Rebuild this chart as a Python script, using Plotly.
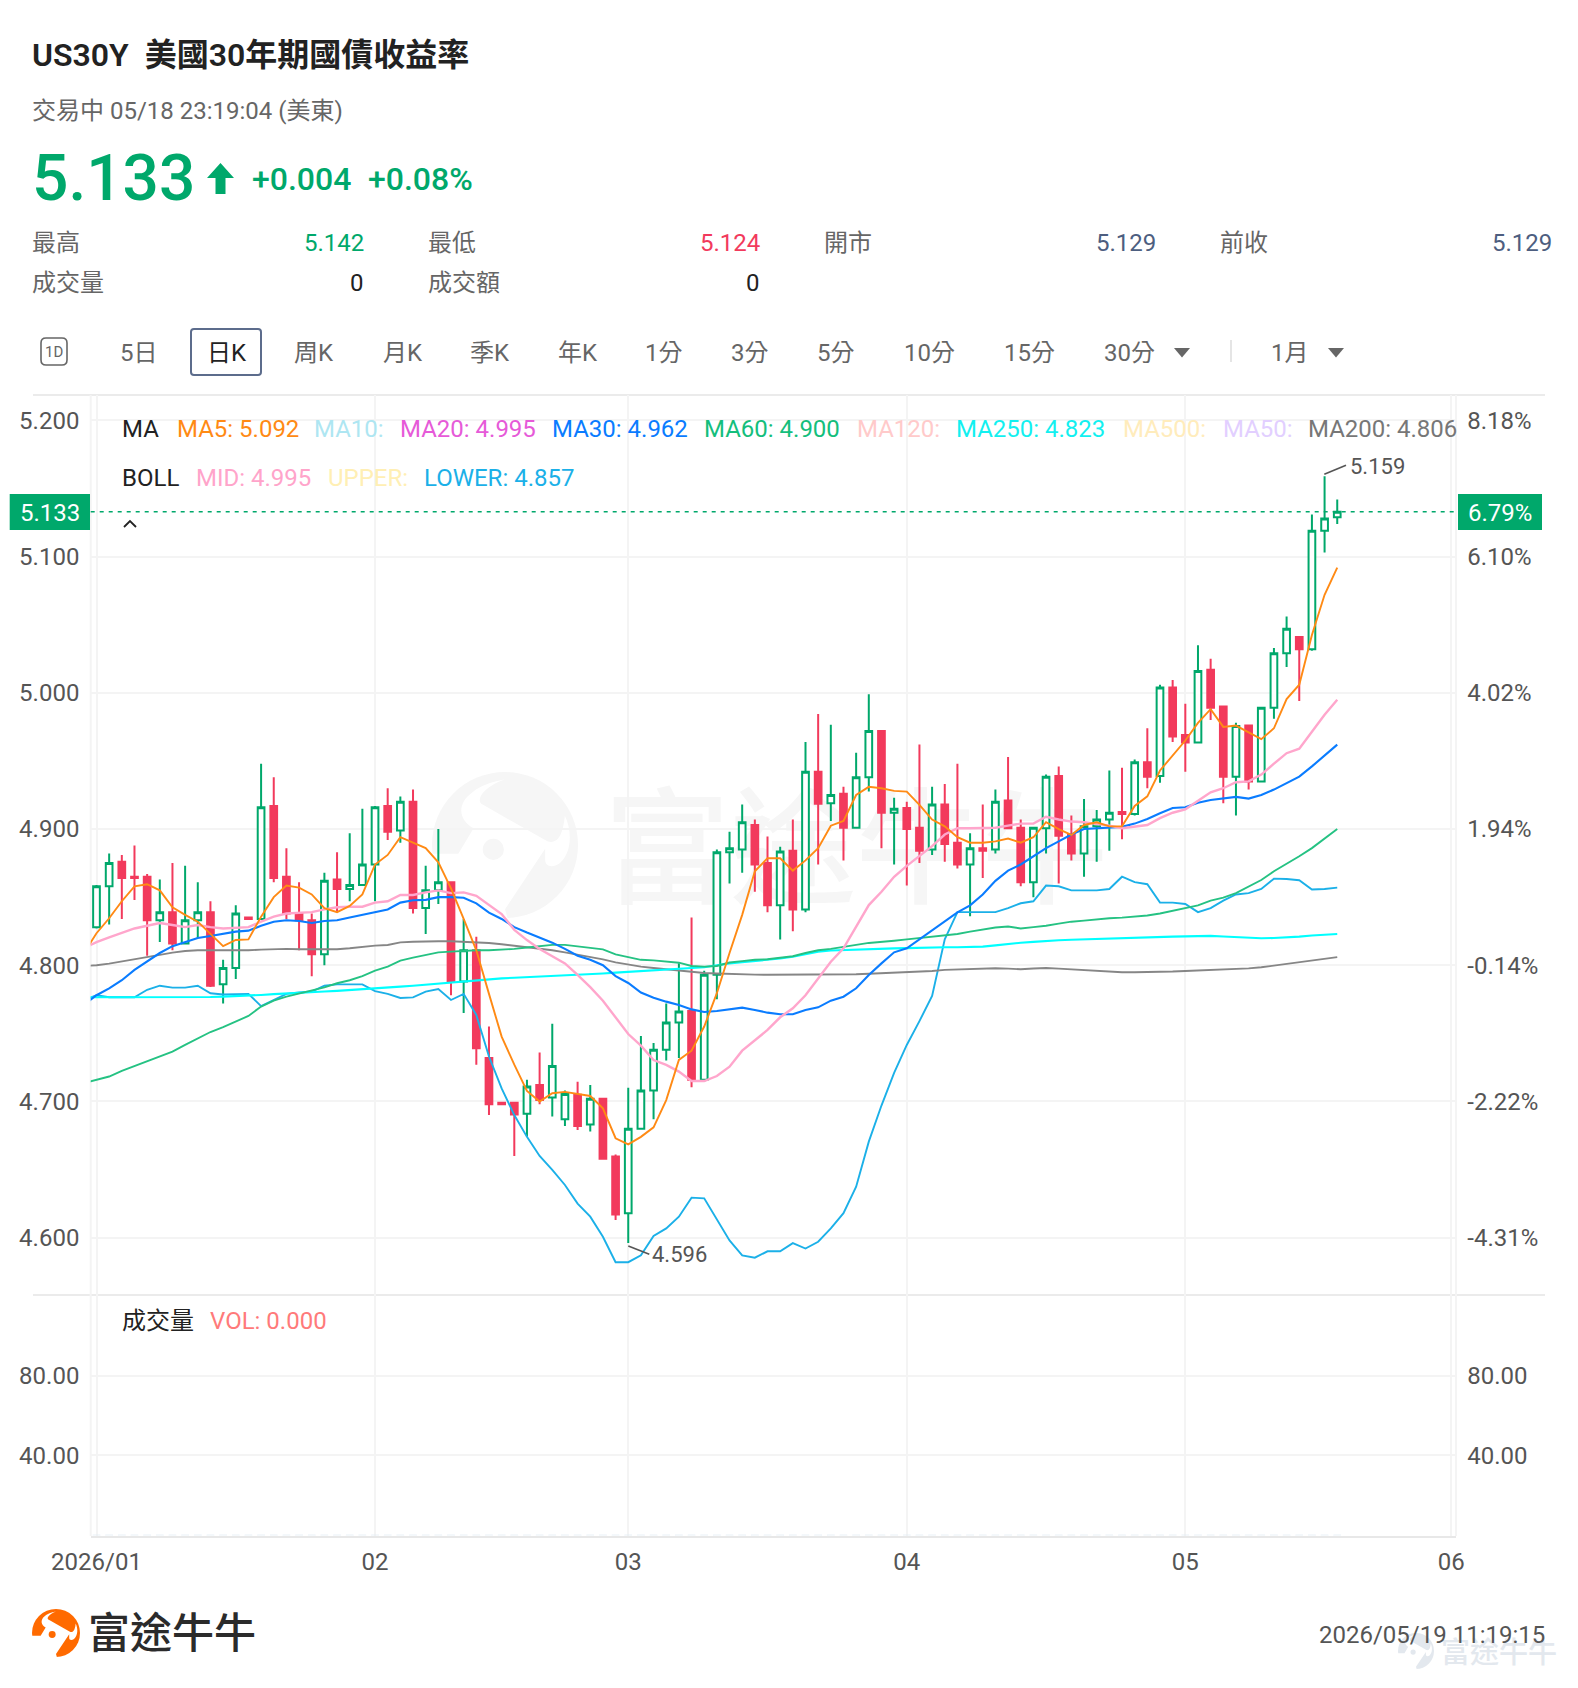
import plotly.graph_objects as go

WIDTH, HEIGHT = 1578, 1688
FONT = "Roboto, 'Noto Sans CJK TC', sans-serif"
UP, DOWN, SLATE = "#00A86B", "#F23A5C", "#4D5E80"
GREY_TEXT, DARK_TEXT = "#666666", "#222222"
GRID = "#F4F4F4"

# daily candles, index 0 = first session of January 2026
OPEN = [
    4.828, 4.858, 4.876, 4.865, 4.865, 4.833, 4.839, 4.816, 4.833, 4.839,
    4.786, 4.798, 4.835, 4.834, 4.917, 4.865, 4.838, 4.833, 4.808, 4.863,
    4.856, 4.859, 4.874, 4.917, 4.899, 4.920, 4.842, 4.855, 4.861, 4.788,
    4.811, 4.732, 4.699, 4.699, 4.691, 4.712, 4.703, 4.687, 4.705, 4.683,
    4.702, 4.6595, 4.618, 4.680, 4.708, 4.738, 4.758, 4.7665, 4.716, 4.793,
    4.883, 4.885, 4.903, 4.875, 4.844, 4.884, 4.841, 4.942, 4.919, 4.926,
    4.901, 4.938, 4.972, 4.912, 4.9155, 4.901, 4.885, 4.918, 4.890, 4.874,
    4.886, 4.885, 4.921, 4.901, 4.861, 4.9006, 4.939, 4.896, 4.882, 4.902,
    4.907, 4.9125, 4.911, 4.949, 4.939, 5.004, 4.969, 4.9635, 5.017, 4.990,
    4.9385, 4.976, 4.935, 4.989, 5.029, 5.041, 5.032, 5.119, 5.129,
]
HIGH = [
    4.859, 4.882, 4.881, 4.888, 4.867, 4.863, 4.875, 4.873, 4.861, 4.847,
    4.804, 4.844, 4.835, 4.948, 4.938, 4.886, 4.861, 4.838, 4.868, 4.883,
    4.897, 4.915, 4.917, 4.930, 4.924, 4.929, 4.873, 4.900, 4.861, 4.834,
    4.821, 4.755, 4.699, 4.699, 4.716, 4.736, 4.757, 4.708, 4.7145, 4.712,
    4.702, 4.661, 4.710, 4.748, 4.743, 4.772, 4.8015, 4.835, 4.796, 4.885,
    4.898, 4.918, 4.907, 4.8945, 4.887, 4.907, 4.964, 4.9845, 4.9765, 4.931,
    4.956, 4.999, 4.972, 4.923, 4.920, 4.962, 4.931, 4.933, 4.948, 4.897,
    4.918, 4.929, 4.953, 4.907, 4.901, 4.940, 4.946, 4.910, 4.922, 4.914,
    4.943, 4.945, 4.951, 4.974, 5.006, 5.0095, 4.992, 5.035, 5.025, 4.990,
    4.978, 4.976, 4.989, 5.033, 5.056, 5.041, 5.131, 5.159, 5.142,
]
LOW = [
    4.827, 4.830, 4.834, 4.848, 4.807, 4.817, 4.811, 4.816, 4.820, 4.784,
    4.772, 4.790, 4.834, 4.834, 4.861, 4.834, 4.811, 4.792, 4.800, 4.839,
    4.847, 4.859, 4.847, 4.892, 4.890, 4.838, 4.823, 4.845, 4.778, 4.765,
    4.727, 4.690, 4.698, 4.660, 4.674, 4.698, 4.689, 4.682, 4.679, 4.678,
    4.6575, 4.613, 4.596, 4.680, 4.687, 4.730, 4.732, 4.7104, 4.7145, 4.775,
    4.860, 4.868, 4.854, 4.839, 4.819, 4.825, 4.839, 4.874, 4.906, 4.877,
    4.9006, 4.9275, 4.886, 4.874, 4.8585, 4.875, 4.881, 4.876, 4.871, 4.836,
    4.864, 4.882, 4.900, 4.858, 4.850, 4.882, 4.860, 4.877, 4.865, 4.876,
    4.884, 4.8925, 4.910, 4.930, 4.934, 4.964, 4.942, 4.9635, 4.980, 4.919,
    4.910, 4.929, 4.935, 4.981, 5.019, 4.994, 5.031, 5.103, 5.124,
]
CLOSE = [
    4.858, 4.875, 4.864, 4.864, 4.833, 4.839, 4.816, 4.833, 4.839, 4.785,
    4.798, 4.838, 4.834, 4.916, 4.864, 4.838, 4.833, 4.808, 4.862, 4.856,
    4.859, 4.874, 4.916, 4.898, 4.920, 4.842, 4.855, 4.861, 4.788, 4.811,
    4.739, 4.698, 4.698, 4.6905, 4.711, 4.701, 4.726, 4.7055, 4.682, 4.702,
    4.658, 4.617, 4.680, 4.708, 4.738, 4.758, 4.766, 4.716, 4.793, 4.883,
    4.886, 4.905, 4.874, 4.844, 4.8835, 4.841, 4.942, 4.9185, 4.925, 4.901,
    4.938, 4.972, 4.912, 4.915, 4.900, 4.884, 4.918, 4.889, 4.874, 4.886,
    4.884, 4.920, 4.9006, 4.861, 4.901, 4.9385, 4.895, 4.882, 4.902, 4.907,
    4.912, 4.911, 4.949, 4.9385, 5.004, 4.968, 4.9635, 5.016, 4.989, 4.9385,
    4.9757, 4.935, 4.989, 5.029, 5.047, 5.032, 5.119, 5.128, 5.133,
]
VOLUME = [0.0] * len(CLOSE)
SESSIONS = list(range(len(CLOSE)))

# indicators start one session earlier, their first segment runs in from the pane edge
LINE_SESSIONS = list(range(-1, len(CLOSE)))
MA5 = [
    4.809, 4.8235, 4.8345, 4.847, 4.858, 4.8595, 4.855, 4.8426, 4.837, 4.832, 4.823,
    4.814, 4.8186, 4.819, 4.8357, 4.850, 4.8585, 4.857, 4.852, 4.842, 4.839,
    4.8436, 4.852, 4.874, 4.881, 4.894, 4.890, 4.886, 4.8756, 4.8565, 4.834,
    4.811, 4.779, 4.7476, 4.727, 4.7077, 4.700, 4.706, 4.707, 4.7055, 4.704,
    4.695, 4.673, 4.6685, 4.674, 4.681, 4.701, 4.7305, 4.7373, 4.755, 4.7795,
    4.809, 4.837, 4.869, 4.8786, 4.8786, 4.8695, 4.877, 4.886, 4.9025, 4.906,
    4.925, 4.931, 4.930, 4.928, 4.9275, 4.9177, 4.907, 4.902, 4.894, 4.890,
    4.890, 4.891, 4.893, 4.890, 4.894, 4.905, 4.900, 4.8957, 4.903, 4.905,
    4.902, 4.902, 4.917, 4.924, 4.943, 4.954, 4.965, 4.978, 4.988, 4.975,
    4.976, 4.971, 4.966, 4.974, 4.9955, 5.006, 5.0425, 5.072, 5.092,
]
BOLL_MID = [
    4.8125, 4.817, 4.8205, 4.824, 4.827, 4.829, 4.831, 4.8296, 4.828, 4.8296, 4.828,
    4.827, 4.8276, 4.828, 4.832, 4.8357, 4.838, 4.8387, 4.839, 4.841, 4.8426,
    4.843, 4.843, 4.846, 4.847, 4.8516, 4.8516, 4.8535, 4.855, 4.853, 4.8535,
    4.851, 4.844, 4.8376, 4.826, 4.8185, 4.812, 4.807, 4.8014, 4.793, 4.784,
    4.774, 4.762, 4.7495, 4.741, 4.7304, 4.7268, 4.7219, 4.715, 4.715, 4.7187,
    4.7255, 4.7373, 4.7451, 4.7525, 4.7618, 4.7684, 4.778, 4.79, 4.8026, 4.8124,
    4.8283, 4.8442, 4.854, 4.865, 4.873, 4.880, 4.8875, 4.896, 4.9006, 4.9006,
    4.9006, 4.901, 4.9025, 4.904, 4.904, 4.909, 4.907, 4.9055, 4.905, 4.904,
    4.9025, 4.9006, 4.902, 4.903, 4.908, 4.912, 4.9145, 4.9206, 4.927, 4.930,
    4.9344, 4.935, 4.940, 4.948, 4.9557, 4.959, 4.9716, 4.984, 4.995,
]
MA30 = [
    4.771, 4.778, 4.783, 4.789, 4.7966, 4.803, 4.809, 4.814, 4.817, 4.820, 4.8215,
    4.823, 4.8247, 4.8254, 4.829, 4.832, 4.833, 4.8325, 4.831, 4.8325, 4.833,
    4.835, 4.837, 4.8395, 4.841, 4.846, 4.8477, 4.848, 4.850, 4.850, 4.8496,
    4.8455, 4.8386, 4.834, 4.828, 4.824, 4.820, 4.8166, 4.812, 4.807, 4.804,
    4.800, 4.792, 4.787, 4.780, 4.7762, 4.7733, 4.7708, 4.7676, 4.7657, 4.7664,
    4.7676, 4.7689, 4.7672, 4.7652, 4.764, 4.764, 4.7672, 4.7691, 4.774, 4.7769,
    4.7831, 4.7929, 4.8014, 4.8095, 4.8124, 4.819, 4.8259, 4.832, 4.8389, 4.844,
    4.852, 4.862, 4.8695, 4.874, 4.880, 4.886, 4.891, 4.896, 4.900, 4.9006,
    4.901, 4.9016, 4.904, 4.9074, 4.9116, 4.9155, 4.916, 4.9194, 4.9214, 4.9224,
    4.9236, 4.9224, 4.925, 4.929, 4.9336, 4.9385, 4.946, 4.9537, 4.962,
]
MA60 = [
    4.7134, 4.7158, 4.7183, 4.7224, 4.726, 4.7293, 4.7334, 4.7366, 4.7415, 4.7464, 4.751,
    4.7545, 4.7586, 4.7628, 4.7697, 4.774, 4.777, 4.7794, 4.7814, 4.7838, 4.7868,
    4.789, 4.792, 4.796, 4.799, 4.8034, 4.8056, 4.8075, 4.8095, 4.810, 4.8107,
    4.811, 4.811, 4.8114, 4.812, 4.813, 4.814, 4.815, 4.815, 4.814, 4.813,
    4.8117, 4.808, 4.806, 4.804, 4.8036, 4.803, 4.8019, 4.7995, 4.799, 4.7995,
    4.802, 4.803, 4.804, 4.8044, 4.8056, 4.8066, 4.809, 4.811, 4.812, 4.8137,
    4.815, 4.8164, 4.817, 4.818, 4.819, 4.820, 4.821, 4.8215, 4.823, 4.8247,
    4.826, 4.8277, 4.8284, 4.827, 4.828, 4.829, 4.8306, 4.832, 4.8328, 4.8338,
    4.8345, 4.835, 4.8355, 4.8365, 4.838, 4.840, 4.842, 4.844, 4.8475, 4.8497,
    4.853, 4.8577, 4.8626, 4.869, 4.8744, 4.880, 4.886, 4.893, 4.900,
]
MA250 = [
    4.7765, 4.7765, 4.7764, 4.7764, 4.7763, 4.7763, 4.7762, 4.7762, 4.7763, 4.7765, 4.7767,
    4.7770, 4.7773, 4.7777, 4.7782, 4.7788, 4.7794, 4.7798, 4.7802, 4.7807, 4.7812,
    4.7818, 4.7822, 4.7826, 4.7835, 4.7843, 4.7850, 4.7858, 4.7866, 4.7874, 4.7882,
    4.789, 4.7897, 4.7904, 4.7908, 4.7912, 4.7916, 4.792, 4.7926, 4.7932, 4.7936,
    4.794, 4.7946, 4.7952, 4.7958, 4.7964, 4.797, 4.7973, 4.798, 4.7985, 4.8,
    4.8014, 4.8022, 4.803, 4.804, 4.805, 4.8063, 4.808, 4.81, 4.8108, 4.8112,
    4.8116, 4.812, 4.8122, 4.8124, 4.8126, 4.8129, 4.8132, 4.8132, 4.8132, 4.8134,
    4.8137, 4.8146, 4.8157, 4.8165, 4.8172, 4.818, 4.8184, 4.8187, 4.819, 4.8194,
    4.8198, 4.8203, 4.8205, 4.8206, 4.8208, 4.821, 4.8212, 4.8214, 4.8216, 4.8211,
    4.8206, 4.8202, 4.8198, 4.82, 4.8203, 4.821, 4.8218, 4.8224, 4.823,
]
MA200 = [
    4.7995, 4.800, 4.8012, 4.8027, 4.8044, 4.8059, 4.8076, 4.8093, 4.8105, 4.811, 4.811,
    4.8108, 4.8108, 4.811, 4.8115, 4.812, 4.812, 4.8118, 4.8118, 4.8118, 4.8118,
    4.8125, 4.8135, 4.8144, 4.8149, 4.8168, 4.8173, 4.8176, 4.8176, 4.8176, 4.8173,
    4.817, 4.8163, 4.8154, 4.8144, 4.8132, 4.812, 4.811, 4.8095, 4.8078, 4.8063,
    4.8043, 4.8021, 4.8004, 4.799, 4.798, 4.797, 4.7958, 4.7948, 4.7943, 4.794,
    4.7936, 4.7933, 4.7931, 4.793, 4.793, 4.793, 4.7931, 4.7931, 4.7931, 4.7931,
    4.7934, 4.7938, 4.7941, 4.7945, 4.7948, 4.7952, 4.7958, 4.7966, 4.797, 4.7974,
    4.7976, 4.7978, 4.7975, 4.7971, 4.7976, 4.798, 4.7975, 4.797, 4.7963, 4.7956,
    4.7952, 4.7949, 4.7949, 4.7949, 4.7951, 4.7954, 4.7958, 4.7962, 4.7966, 4.7968,
    4.797, 4.7977, 4.7985, 4.7998, 4.8012, 4.8023, 4.8034, 4.8046, 4.806,
]
BOLL_LOWER = [
    4.7745, 4.778, 4.7765, 4.7765, 4.7765, 4.782, 4.785, 4.7836, 4.7836, 4.785, 4.7794,
    4.7785, 4.779, 4.779, 4.770, 4.7745, 4.779, 4.780, 4.7807, 4.785, 4.786,
    4.786, 4.786, 4.781, 4.779, 4.776, 4.7764, 4.7806, 4.7826, 4.7745, 4.779,
    4.7635, 4.733, 4.7096, 4.690, 4.674, 4.660, 4.6497, 4.6387, 4.625, 4.6154,
    4.6007, 4.582, 4.582, 4.587, 4.6012, 4.6068, 4.6154, 4.6294, 4.6289, 4.6135,
    4.598, 4.587, 4.5853, 4.590, 4.590, 4.596, 4.592, 4.597, 4.6068, 4.618,
    4.6374, 4.6705, 4.697, 4.721, 4.7415, 4.759, 4.7774, 4.819, 4.839, 4.839,
    4.839, 4.839, 4.842, 4.8455, 4.847, 4.8585, 4.858, 4.855, 4.855, 4.855,
    4.856, 4.865, 4.861, 4.8595, 4.846, 4.846, 4.845, 4.839, 4.842, 4.8475,
    4.852, 4.853, 4.856, 4.8636, 4.8633, 4.8624, 4.8556, 4.856, 4.857,
]

# axis ticks
MONTH_TICKS = [0, 22, 42, 64, 86, 107]
MONTH_LABELS = ["2026/01", "02", "03", "04", "05", "06"]
PRICE_TICKS = [5.2, 5.1, 5.0, 4.9, 4.8, 4.7, 4.6]
PRICE_LABELS = ["5.200", "5.100", "5.000", "4.900", "4.800", "4.700", "4.600"]
CHANGE_LABELS = ["8.18%", "6.10%", "4.02%", "1.94%", "-0.14%", "-2.22%", "-4.31%"]
VOLUME_TICKS = [80, 40]
VOLUME_LABELS = ["80.00", "40.00"]
LAST_PRICE = 5.133
LAST_CHANGE = "6.79%"
PERIOD_HIGH, PERIOD_LOW = 5.159, 4.596

# pane geometry, in page pixels
PANE_LEFT, PANE_RIGHT = 90.7, 1456
MAIN_TOP, MAIN_BOTTOM, VOL_BOTTOM = 395, 1295, 1536


def px(x):
    return x / WIDTH


def py(y):
    return 1 - y / HEIGHT


def pt(x, y):
    return f"{px(x):.5f},{py(y):.5f}"


annotations, shapes = [], []


def text(x, y, s, size=24, color=GREY_TEXT, anchor="left", weight=400):
    annotations.append(dict(
        x=px(x), y=py(y), xref="paper", yref="paper", text=s, showarrow=False,
        xanchor=anchor, yanchor="middle", borderpad=0, borderwidth=0,
        font=dict(family=FONT, size=size, color=color, weight=weight),
    ))


def rect(x0, y0, x1, y1, fill=None, line=None, lw=0, layer="above"):
    shapes.append(dict(
        type="rect", xref="paper", yref="paper", x0=px(x0), x1=px(x1), y0=py(y1), y1=py(y0),
        fillcolor=fill or "rgba(0,0,0,0)", layer=layer,
        line=dict(color=line or "rgba(0,0,0,0)", width=lw),
    ))


def segment(x0, y0, x1, y1, color, lw=2, layer="above"):
    shapes.append(dict(
        type="line", xref="paper", yref="paper", x0=px(x0), x1=px(x1), y0=py(y0), y1=py(y1),
        layer=layer, line=dict(color=color, width=lw),
    ))


def polygon(points, fill, layer="above"):
    d = "M" + " L".join(pt(x, y) for x, y in points) + " Z"
    shapes.append(dict(type="path", xref="paper", yref="paper", path=d, fillcolor=fill,
                       layer=layer, line=dict(width=0)))


def round_box(x0, y0, x1, y1, r, color, lw):
    d = (f"M{pt(x0 + r, y0)} L{pt(x1 - r, y0)} Q{pt(x1, y0)} {pt(x1, y0 + r)} "
         f"L{pt(x1, y1 - r)} Q{pt(x1, y1)} {pt(x1 - r, y1)} L{pt(x0 + r, y1)} "
         f"Q{pt(x0, y1)} {pt(x0, y1 - r)} L{pt(x0, y0 + r)} Q{pt(x0, y0)} {pt(x0 + r, y0)} Z")
    shapes.append(dict(type="path", xref="paper", yref="paper", path=d, layer="above",
                       line=dict(color=color, width=lw)))


def bull_logo(cx, cy, r, body, cut, layer):
    """Round brand mark: a disc, the pale head cut out of it, and the eye."""
    shapes.append(dict(type="circle", xref="paper", yref="paper", layer=layer,
                       x0=px(cx - r), x1=px(cx + r), y0=py(cy + r), y1=py(cy - r),
                       fillcolor=body, line=dict(width=0)))

    def q(u, v):
        return pt(cx + u * r, cy + v * r)

    d = (f"M{q(-1.05, 0.12)} L{q(-0.64, 0.12)} L{q(-0.43, -0.23)} "
         f"C{q(-0.62, -0.33)} {q(-0.68, -0.55)} {q(-0.45, -0.72)} "
         f"C{q(-0.3, -0.84)} {q(-0.1, -0.88)} {q(0, -0.9)} "
         f"C{q(-0.3, -0.8)} {q(-0.42, -0.6)} {q(-0.3, -0.55)} L{q(0.58, -0.05)} "
         f"C{q(0.75, 0)} {q(0.8, -0.2)} {q(0.82, -0.4)} "
         f"C{q(0.92, -0.2)} {q(0.92, 0.1)} {q(0.75, 0.25)} "
         f"C{q(0.65, 0.32)} {q(0.55, 0.3)} {q(0.55, 0.2)} L{q(0.55, 0.05)} "
         f"L{q(0.0, 0.88)} L{q(0.05, 1.05)} L{q(-1.05, 1.05)} Z")
    shapes.append(dict(type="path", xref="paper", yref="paper", path=d, layer=layer,
                       fillcolor=cut, line=dict(width=0)))
    e = 0.145 * r
    ex, ey = cx - 0.16 * r, cy + 0.06 * r
    shapes.append(dict(type="circle", xref="paper", yref="paper", layer=layer,
                       x0=px(ex - e), x1=px(ex + e), y0=py(ey + e), y1=py(ey - e),
                       fillcolor=body, line=dict(width=0)))


# header block
text(32, 55, "US30Y&#160;&#160;美國30年期國債收益率", 32, DARK_TEXT, weight=600)
text(32, 111, "交易中 05/18 23:19:04 (美東)", 24)
text(32, 178, "5.133", 64, UP, weight=500)
polygon([(220.5, 163), (234, 178), (225.5, 178), (225.5, 194), (215.5, 194), (215.5, 178), (207, 178)], UP)
text(252, 179, "+0.004", 32, UP, weight=500)
text(368, 179, "+0.08%", 32, UP, weight=500)

text(32, 243, "最高")
text(364, 243, "5.142", color=UP, anchor="right")
text(428, 243, "最低")
text(760, 243, "5.124", color=DOWN, anchor="right")
text(824, 243, "開市")
text(1156, 243, "5.129", color=SLATE, anchor="right")
text(1220, 243, "前收")
text(1552, 243, "5.129", color=SLATE, anchor="right")
text(32, 283, "成交量")
text(364, 283, "0", color=DARK_TEXT, anchor="right")
text(428, 283, "成交額")
text(760, 283, "0", color=DARK_TEXT, anchor="right")

# period selector
round_box(41, 338, 67, 365, 5, GREY_TEXT, 1.6)
text(54, 352, "1D", 15, GREY_TEXT, "center")
round_box(191, 329, 261, 375, 3, "#5C6C8C", 2)
for cx, label, colour in [
    (138.5, "5日", GREY_TEXT), (227, "日K", DARK_TEXT), (314, "周K", GREY_TEXT), (403, "月K", GREY_TEXT),
    (490, "季K", GREY_TEXT), (578, "年K", GREY_TEXT), (664, "1分", GREY_TEXT), (750, "3分", GREY_TEXT),
    (836, "5分", GREY_TEXT), (929, "10分", GREY_TEXT), (1029, "15分", GREY_TEXT), (1129, "30分", GREY_TEXT),
    (1290, "1月", GREY_TEXT),
]:
    text(cx, 353, label, 24, colour, "center")
for cx in (1182, 1336):
    polygon([(cx - 8, 348), (cx + 8, 348), (cx, 357.5)], "#666666")
segment(1231, 340, 1231, 362, "#DDDDDD", 1.5)

# pane frame
segment(33, MAIN_TOP, 1545, MAIN_TOP, "#EBEBEB", 2, "below")
segment(33, MAIN_BOTTOM, 1545, MAIN_BOTTOM, "#EBEBEB", 2, "below")
segment(PANE_LEFT, MAIN_TOP, PANE_LEFT, VOL_BOTTOM, GRID, 2, "below")
segment(PANE_RIGHT, MAIN_TOP, PANE_RIGHT, VOL_BOTTOM, GRID, 2, "below")

# faint brand mark behind the candles
bull_logo(505, 845, 73, "#F6F6F6", "#FFFFFF", "below")
shapes.append(dict(
    type="rect", xref="paper", yref="paper", x0=px(601), x1=px(1111), y0=py(923), y1=py(795),
    layer="below", line=dict(width=0), fillcolor="rgba(0,0,0,0)",
    label=dict(text="富途牛牛", textposition="middle center",
               font=dict(family="'Noto Sans CJK TC', sans-serif", size=126, color="#F6F6F6", weight=500)),
))

# indicator captions
LEGEND_MA = [
    (122, "MA", DARK_TEXT), (176.5, "MA5: 5.092", "#FF8A14"), (314, "MA10:", "#AEE6F2"),
    (400, "MA20: 4.995", "#E65AD8"), (552, "MA30: 4.962", "#0A7CFF"), (704, "MA60: 4.900", "#14BE7C"),
    (857, "MA120:", "#FFCACA"), (956, "MA250: 4.823", "#12F0F0"), (1123, "MA500:", "#FFECBC"),
    (1223, "MA50:", "#E2CFFF"), (1308, "MA200: 4.806", "#777777"),
]
LEGEND_BOLL = [
    (122, "BOLL", DARK_TEXT), (196, "MID: 4.995", "#FFA4CA"), (328, "UPPER:", "#FFEFB4"),
    (424, "LOWER: 4.857", "#1BB0E8"),
]
for x, label, colour in LEGEND_MA:
    text(x, 429, label, 24, colour)
for x, label, colour in LEGEND_BOLL:
    text(x, 477.5, label, 24, colour)
text(122, 1321, "成交量", 24, DARK_TEXT)
text(210, 1321, "VOL: 0.000", 24, "#FF7A7A")
shapes.append(dict(type="path", xref="paper", yref="paper", layer="above",
                   path=f"M{pt(124, 527)} L{pt(130, 521)} L{pt(136, 527)}",
                   line=dict(color="#222222", width=1.8)))

# last-price tags
rect(9.7, 494, 90, 530, UP)
rect(1458, 494, 1542, 530, UP)
text(50, 513, f"{LAST_PRICE:.3f}", 24, "#FFFFFF", "center")
text(1500, 513, LAST_CHANGE, 24, "#FFFFFF", "center")
shapes.append(dict(type="line", xref="paper", yref="y", x0=px(PANE_LEFT), x1=px(1458),
                   y0=LAST_PRICE, y1=LAST_PRICE, layer="above",
                   line=dict(color=UP, width=1.6, dash="4px,5px")))

# extreme labels
segment(1324.3, 474.3, 1346, 465.3, "#555555", 1.6)
text(1350, 466.5, f"{PERIOD_HIGH:.3f}", 22, "#555555")
segment(628.3, 1246, 649.3, 1254.3, "#555555", 1.6)
text(652, 1254, f"{PERIOD_LOW:.3f}", 22, "#555555")

# footer
bull_logo(56, 1633, 24, "#FF6A00", "#FFFFFF", "above")
text(88, 1633, "富途牛牛", 42, "#2B2B2B", weight=500)
bull_logo(1416, 1651, 18, "#E3E8EE", "#FFFFFF", "above")
text(1441, 1653, "富途牛牛", 29, "#E3E8EE", weight=500)
text(1545, 1635, "2026/05/19 11:19:15", 24, "#555555", "right")

fig = go.Figure()
fig.add_trace(go.Bar(x=SESSIONS, y=VOLUME, yaxis="y2", marker_color="#FF7A7A", width=0.6, hoverinfo="skip"))
fig.add_trace(go.Candlestick(
    x=SESSIONS, open=OPEN, high=HIGH, low=LOW, close=CLOSE, whiskerwidth=0, hoverinfo="skip",
    increasing=dict(line=dict(color=UP, width=2), fillcolor="#FFFFFF"),
    decreasing=dict(line=dict(color=DOWN, width=2), fillcolor=DOWN),
))
for series, colour, weight in [
    (BOLL_LOWER, "#1BB0E8", 1.9), (MA200, "#868686", 1.9), (MA250, "#00FFFF", 2.1), (MA60, "#25C283", 1.9),
    (MA30, "#0A7CFF", 2.1), (BOLL_MID, "#FFA6CC", 2.4), (MA5, "#FF8A14", 1.9),
]:
    fig.add_trace(go.Scatter(x=LINE_SESSIONS, y=series, mode="lines", hoverinfo="skip",
                             line=dict(color=colour, width=weight)))
# right-hand axes carry the change and volume scales
fig.add_trace(go.Scatter(x=SESSIONS[-1:], y=CLOSE[-1:], yaxis="y3", mode="markers", hoverinfo="skip",
                         marker=dict(opacity=0)))
fig.add_trace(go.Scatter(x=SESSIONS[-1:], y=VOLUME[-1:], yaxis="y4", mode="markers", hoverinfo="skip",
                         marker=dict(opacity=0)))

price_range = [4.5579, 5.2187]
volume_range = [-0.5, 120.4]
tick_font = dict(family=FONT, size=24, color="#555555")
pad = dict(ticks="outside", ticklen=5.5, tickcolor="rgba(0,0,0,0)", zeroline=False, showline=False, automargin=False)

fig.update_layout(
    width=WIDTH, height=HEIGHT, margin=dict(l=0, r=0, t=0, b=0, autoexpand=False),
    paper_bgcolor="#FFFFFF", plot_bgcolor="rgba(0,0,0,0)", showlegend=False, boxgap=0.47, boxgroupgap=0,
    hovermode=False, annotations=annotations, shapes=shapes, bargap=0.4,
    xaxis=dict(
        domain=[px(PANE_LEFT), px(PANE_RIGHT)], range=[-0.458, 107.38], anchor="y2",
        tickvals=MONTH_TICKS, ticktext=MONTH_LABELS, tickfont=tick_font, rangeslider=dict(visible=False),
        showgrid=True, gridcolor=GRID, gridwidth=2, showline=True, linecolor="#E8E8E8", linewidth=2,
        ticks="outside", ticklen=3.5, tickcolor="rgba(0,0,0,0)", zeroline=False, automargin=False,
    ),
    yaxis=dict(
        domain=[py(MAIN_BOTTOM), py(MAIN_TOP)], range=price_range, tickvals=PRICE_TICKS, ticktext=PRICE_LABELS,
        tickfont=tick_font, showgrid=True, gridcolor=GRID, gridwidth=2, **pad,
    ),
    yaxis2=dict(
        domain=[py(VOL_BOTTOM), py(MAIN_BOTTOM)], range=volume_range, tickvals=VOLUME_TICKS, ticktext=VOLUME_LABELS,
        tickfont=tick_font, showgrid=True, gridcolor=GRID, gridwidth=2, **pad,
    ),
    yaxis3=dict(
        overlaying="y", side="right", anchor="x", range=price_range, tickvals=PRICE_TICKS,
        ticktext=CHANGE_LABELS, tickfont=tick_font, showgrid=False, **pad,
    ),
    yaxis4=dict(
        overlaying="y2", side="right", anchor="x", range=volume_range, tickvals=VOLUME_TICKS,
        ticktext=VOLUME_LABELS, tickfont=tick_font, showgrid=False, **pad,
    ),
)

fig.write_html("out.html")
